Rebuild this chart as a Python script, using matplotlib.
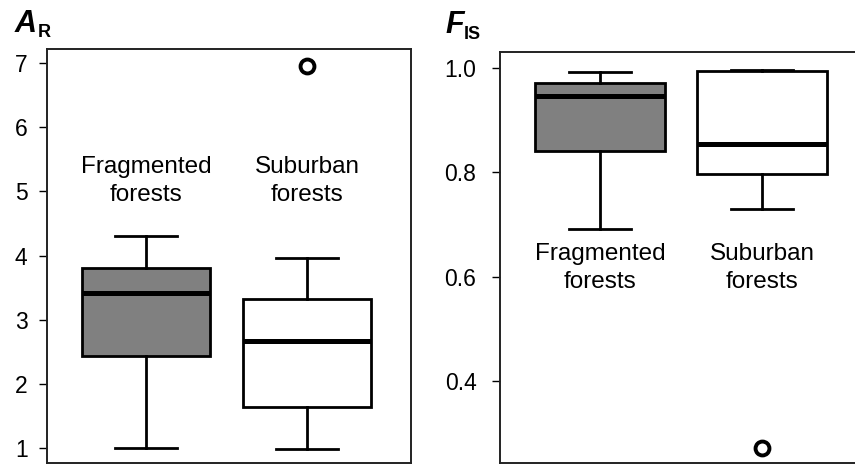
import matplotlib
matplotlib.use("Agg")
import matplotlib.pyplot as plt

plt.rcParams['font.family'] = ['Liberation Sans', 'DejaVu Sans']

groups = ["Fragmented\nforests", "Suburban\nforests"]
fills = ["#808080", "white"]

# allelic richness (A_R): whisker low, Q1, median, Q3, whisker high
ar_low = [1.00, 0.99]
ar_q1 = [2.44, 1.65]
ar_med = [3.42, 2.68]
ar_q3 = [3.81, 3.33]
ar_high = [4.31, 3.97]
ar_fliers = [[], [6.96]]

# inbreeding coefficient (F_IS)
fis_low = [0.691, 0.730]
fis_q1 = [0.841, 0.797]
fis_med = [0.947, 0.854]
fis_q3 = [0.972, 0.994]
fis_high = [0.992, 0.997]
fis_fliers = [[], [0.272]]


def make_stats(lo, q1, med, q3, hi, fl):
    stats = []
    for i in range(len(lo)):
        stats.append(dict(whislo=lo[i], q1=q1[i], med=med[i], q3=q3[i],
                          whishi=hi[i], fliers=fl[i]))
    return stats


def draw_panel(ax, stats, ylim, yticks, ticklabels, label_y, pad):
    bp = ax.bxp(stats, positions=[1, 2], widths=0.8, patch_artist=True,
                showfliers=True,
                boxprops=dict(linewidth=2.0, edgecolor="black"),
                medianprops=dict(linewidth=3.6, color="black",
                                 solid_capstyle="butt"),
                whiskerprops=dict(linewidth=2.0, color="black"),
                capprops=dict(linewidth=2.0, color="black"),
                capwidths=0.38,
                flierprops=dict(marker="o", markersize=10,
                                markerfacecolor="white",
                                markeredgecolor="black",
                                markeredgewidth=2.8))
    for patch, c in zip(bp["boxes"], fills):
        patch.set_facecolor(c)
    for i, g in enumerate(groups):
        ax.text(i + 1, label_y, g, ha="center", va="center", fontsize=17.5,
                linespacing=1.35)
    ax.set_ylim(*ylim)
    ax.set_yticks(yticks)
    ax.set_yticklabels(ticklabels, fontsize=16.5)
    ax.set_xticks([])
    ax.tick_params(axis="y", length=6, width=1.0, pad=pad)
    for s in ax.spines.values():
        s.set_linewidth(1.4)
        s.set_color("#222222")


fig = plt.figure(figsize=(8.55, 4.65), dpi=100)
ax1 = fig.add_axes([47 / 855, 2 / 465, 364 / 855, 414 / 465])
ax2 = fig.add_axes([500 / 855, 2 / 465, 363 / 855, 411 / 465])

draw_panel(ax1, make_stats(ar_low, ar_q1, ar_med, ar_q3, ar_high, ar_fliers),
           (0.774, 7.218), [1, 2, 3, 4, 5, 6, 7],
           ["1", "2", "3", "4", "5", "6", "7"], 5.16, 8)
ax1.set_xlim(0.385, 2.646)

draw_panel(ax2, make_stats(fis_low, fis_q1, fis_med, fis_q3, fis_high, fis_fliers),
           (0.2428, 1.0307), [0.4, 0.6, 0.8, 1.0],
           ["0.4", "0.6", "0.8", "1.0"], 0.617, 11)
ax2.set_xlim(0.383, 2.623)

# panel titles
fig.text(15 / 855, 1 - 32 / 465, "A", fontsize=22, fontweight="bold",
         style="italic", va="baseline")
fig.text(38 / 855, 1 - 37 / 465, "R", fontsize=13, fontweight="bold",
         va="baseline")
fig.text(445 / 855, 1 - 33 / 465, "F", fontsize=22, fontweight="bold",
         style="italic", va="baseline")
fig.text(464 / 855, 1 - 39 / 465, "IS", fontsize=13, fontweight="bold",
         va="baseline")

plt.savefig("out.png", dpi=100)
